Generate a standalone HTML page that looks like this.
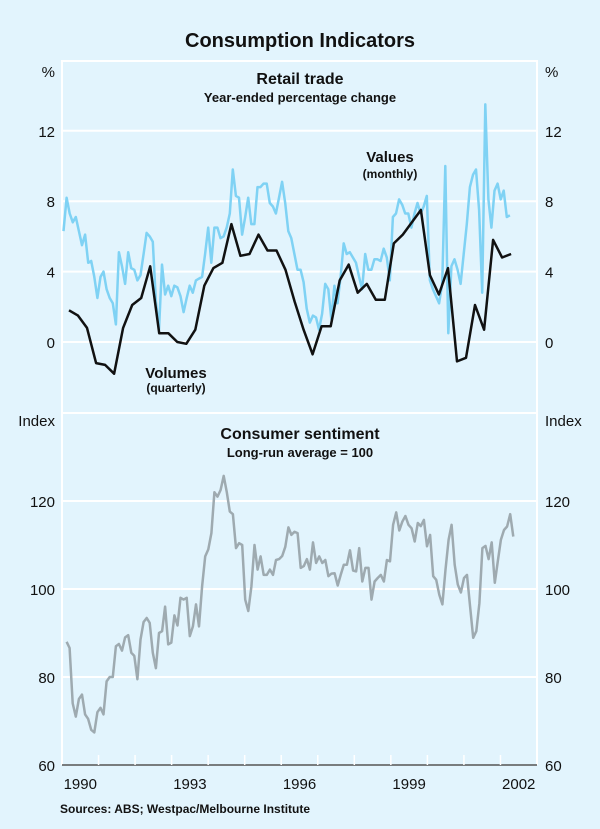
<!DOCTYPE html>
<html><head><meta charset="utf-8"><style>
html,body{margin:0;padding:0;background:#e2f4fd;}
svg{display:block;font-family:"Liberation Sans",Arial,sans-serif;}
</style></head><body>
<svg id="chart" width="600" height="829" viewBox="0 0 600 829">
<rect x="0" y="0" width="600" height="829" fill="#e2f4fd"/>
<text x="300" y="47" text-anchor="middle" font-size="20" font-weight="bold" fill="#111">Consumption Indicators</text>
<g id="grid"></g>
<g id="series"></g>
<g id="labels"></g>
<text x="300" y="84" text-anchor="middle" font-size="16" font-weight="bold" fill="#111">Retail trade</text>
<text x="300" y="102" text-anchor="middle" font-size="13" font-weight="bold" fill="#111">Year-ended percentage change</text>
<text x="390" y="162" text-anchor="middle" font-size="15" font-weight="bold" fill="#111">Values</text>
<text x="390" y="178" text-anchor="middle" font-size="12" font-weight="bold" fill="#111">(monthly)</text>
<text x="176" y="378" text-anchor="middle" font-size="15" font-weight="bold" fill="#111">Volumes</text>
<text x="176" y="392" text-anchor="middle" font-size="12" font-weight="bold" fill="#111">(quarterly)</text>
<text x="300" y="439" text-anchor="middle" font-size="16" font-weight="bold" fill="#111">Consumer sentiment</text>
<text x="300" y="457" text-anchor="middle" font-size="13" font-weight="bold" fill="#111">Long-run average = 100</text>
<text x="60" y="813" font-size="12" font-weight="bold" fill="#111">Sources: ABS; Westpac/Melbourne Institute</text>
</svg>
<script>
const years = ["1990","1993","1996","1999","2002"];
const yearIdx = [0,3,6,9,12];
const retailTicks = [0,4,8,12];
const sentTicks = [60,80,100,120];
const valuesMonthly = [6.3,8.2,7.3,6.8,7.1,6.3,5.5,6.1,4.5,4.6,3.7,2.5,3.7,4.0,3.0,2.5,2.2,1.0,5.1,4.3,3.3,5.1,4.2,4.1,3.5,3.8,5.0,6.2,6.0,5.7,2.3,0.7,4.4,2.7,3.2,2.6,3.2,3.1,2.6,1.7,2.5,3.2,2.8,3.5,3.6,3.7,5.0,6.5,4.5,6.5,6.5,5.9,6.0,6.5,7.3,9.8,8.3,8.2,6.1,7.1,8.2,6.7,6.7,8.8,8.8,9.0,9.0,7.9,7.7,7.3,8.2,9.1,7.9,6.3,5.9,5.0,4.1,4.1,3.4,1.9,1.1,1.5,1.4,0.7,1.6,3.3,3.0,1.3,3.2,2.2,3.7,5.6,5.0,5.1,4.8,4.5,3.7,3.0,5.0,4.1,4.1,4.7,4.7,4.6,5.3,4.8,3.5,7.1,7.3,8.1,7.8,7.3,7.3,6.5,7.3,7.9,7.3,7.7,8.3,3.5,3.0,2.6,2.2,3.3,10.0,0.5,4.3,4.7,4.1,3.3,5.0,6.7,8.8,9.5,9.8,7.5,2.8,13.5,8.1,6.5,8.6,9.0,8.1,8.6,7.1,7.2];
const valuesStart = 0, valuesEnd = 146.6;
const volumesQuarterly = [1.8,1.5,0.8,-1.2,-1.3,-1.8,0.8,2.1,2.5,4.3,0.5,0.5,0.0,-0.1,0.7,3.2,4.2,4.5,6.7,4.9,5.0,6.1,5.2,5.2,4.1,2.3,0.7,-0.7,0.9,0.9,3.5,4.4,2.8,3.3,2.4,2.4,5.6,6.1,6.8,7.5,3.8,2.7,4.2,-1.1,-0.9,2.1,0.7,5.8,4.8,5.0];
const volumesStart = 1.8, volumesEnd = 147;
const sentiment = [88,86.6,74,71,75,76,71.5,70.5,68,67.4,72,73,71.5,79,80,80,87,87.5,86,89,89.5,85.5,84.8,79.5,88.5,92.5,93.4,92.3,85.5,82,90,90.4,96,87.4,87.8,94,91.7,98,97.6,98,89.3,91.5,96.5,91.5,100.6,107.4,109,112.7,122,121,122.5,125.7,122,117.6,117,109.3,110.4,110,97.6,95,100.6,110,104.4,107.4,103.2,103.2,104.4,103.2,106.6,106.8,107.5,109.6,114,112.3,113,112.7,104.8,105.2,106.8,104.4,110.6,105.9,107.4,105.9,106.6,102.9,103.5,103.6,100.8,103.2,105.5,105.5,108.8,104.2,104,109.3,101.7,104.8,104.8,97.6,101.7,102.5,103.2,101.7,106.6,106.3,114.6,117.4,113.3,115.3,116.6,114.6,113.8,110.8,115,114.3,115.7,109.7,112.3,102.9,102.1,98.7,96.5,104.4,111.2,114.6,105.5,101,99.2,102.5,103.2,96,88.9,90.4,96.8,109.3,109.8,106.8,110.6,101.4,106.3,111.2,113.4,114.2,117,111.9];
const sentStart = 1, sentEnd = 147.7;

const NS="http://www.w3.org/2000/svg";
const L=62, R=537;
const monthW=(R-L)/156;
const xM = m => L + (m+0.5)*monthW;
const yRet = v => 342 - v*17.6;
const ySent = v => 589 - (v-100)*4.4;
function mk(tag, attrs, parent){const e=document.createElementNS(NS,tag);for(const k in attrs)e.setAttribute(k,attrs[k]);parent.appendChild(e);return e;}
const grid=document.getElementById('grid'), ser=document.getElementById('series'), lab=document.getElementById('labels');

// panel frames
let f=mk('path',{d:`M${L} 413 L${L} 61 L${R} 61 L${R} 413`,fill:'none',stroke:'#fff','stroke-width':2},grid);


f=mk('path',{d:`M${L} 765 L${L} 413 L${R} 413 L${R} 765`,fill:'none',stroke:'#fff','stroke-width':2},grid);



retailTicks.forEach(t=>{
  const y=yRet(t);
  const g=mk('line',{x1:L,x2:R,y1:y,y2:y,stroke:'#fff','stroke-width':2},grid);
  
  
  let a=mk('text',{x:55,y:y+6,'text-anchor':'end','font-size':15,fill:'#111'},lab);a.textContent=t;
  
  
  a=mk('text',{x:545,y:y+6,'font-size':15,fill:'#111'},lab);a.textContent=t;
  
  
});
sentTicks.forEach(t=>{
  const y=ySent(t);
  if(t>60){const g=mk('line',{x1:L,x2:R,y1:y,y2:y,stroke:'#fff','stroke-width':2},grid);
  
  }
  let a=mk('text',{x:55,y:y+6,'text-anchor':'end','font-size':15,fill:'#111'},lab);a.textContent=t;
  
  
  a=mk('text',{x:545,y:y+6,'font-size':15,fill:'#111'},lab);a.textContent=t;
  
  
});
[['%',77,'retail-left-unit',55,'end'],['%',77,'retail-right-unit',545,'start'],['Index',426,'sentiment-left-unit',55,'end'],['Index',426,'sentiment-right-unit',545,'start']].forEach(u=>{
  const a=mk('text',{x:u[3],y:u[1],'text-anchor':u[4],'font-size':15,fill:'#111'},lab);a.textContent=u[0];
  
  
});
// x axis
let ax=mk('line',{x1:L,x2:R,y1:765,y2:765,stroke:'#555','stroke-width':1.5},grid);


for(let i=1;i<13;i++){
  const x=L+i*12*monthW;
  const t=mk('line',{x1:x,x2:x,y1:765,y2:755,stroke:'#fff','stroke-width':1.5},grid);
  
  
}
years.forEach((yr,i)=>{
  const a=mk('text',{x:xM(yearIdx[i]*12+5.5),y:789,'text-anchor':'middle','font-size':15,fill:'#111'},lab);a.textContent=yr;
  
  
});

function line(vals,s,e,yf,color,w,name){
  const step=(e-s)/(vals.length-1);
  const d=vals.map((v,i)=>(i?'L':'M')+xM(s+i*step).toFixed(1)+' '+yf(v).toFixed(1)).join(' ');
  const p=mk('path',{d:d,fill:'none',stroke:color,'stroke-width':w,'stroke-linejoin':'round'},ser);
  
  
}
line(valuesMonthly,valuesStart,valuesEnd,yRet,'#7fd2f4',2.5,'values-monthly-line');
line(volumesQuarterly,volumesStart,volumesEnd,yRet,'#111',2.5,'volumes-quarterly-line');
line(sentiment,sentStart,sentEnd,ySent,'#9eaab0',2.5,'consumer-sentiment-line');
</script>
</body></html>
